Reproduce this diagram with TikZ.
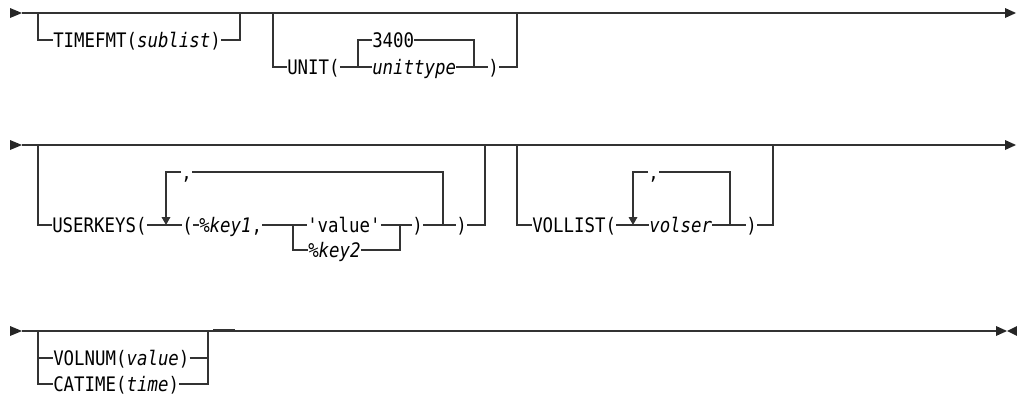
\documentclass[tikz,border=0pt]{standalone}
\usepackage{fontspec}
\setmonofont[FakeStretch=0.87]{DejaVu Sans Mono}
\usetikzlibrary{arrows.meta}
\newcommand{\synfont}{\ttfamily\fontsize{15pt}{17pt}\selectfont}
\tikzset{
  syn/.style={line width=0.95pt, draw=black!80},
  kw/.style={inner sep=0pt, anchor=west, text height=10.9pt, text depth=0pt, font=\synfont, text=black},
  looparrow/.style={-{Triangle[width=6.5pt,length=6pt]}}
}
\begin{document}
\begin{tikzpicture}[x=0.75pt, y=-0.75pt]
\useasboundingbox (0,0) rectangle (1017,396);

% row 1
\coordinate (a0) at (22,13); \coordinate (a1) at (38,13); \coordinate (a2) at (240,13);
\coordinate (a3) at (273,13); \coordinate (a4) at (517,13); \coordinate (a5) at (1005,13);
\coordinate (b1) at (358,67); \coordinate (b2) at (474,67);
\fill[black!85] (10,8) -- (a0) -- (10,18) -- cycle;
\fill[black!85] (a5) ++(0,-5) -- (1016,13) -- (1005,18) -- cycle;
\draw[syn] (a0) -- (a5);
\node[kw] (tfmt) at (53,40) {TIMEFMT(\textit{sublist})};
\node[kw] (unit) at (287,67) {UNIT(};
\node[kw] (dflt) at (372,40) {3400};
\node[kw] (utype) at (372,67) {\textit{unittype}};
\node[kw] (urp) at (488,67) {)};
\draw[syn] (a1) |- (tfmt.west) (tfmt.east) -| (a2);
\draw[syn] (a3) |- (unit.west) (unit.east) -- (utype.west) (utype.east) -- (urp.west) (urp.east) -| (a4);
\draw[syn] (b1) |- (dflt.west) (dflt.east) -| (b2);

% row 2
\coordinate (c0) at (22,145); \coordinate (c1) at (38,145); \coordinate (c2) at (485,145);
\coordinate (c3) at (517,145); \coordinate (c4) at (773,145); \coordinate (c5) at (1005,145);
\coordinate (l1) at (166,225); \coordinate (l2) at (443,225);
\coordinate (l3) at (633,225); \coordinate (l4) at (730,225);
\coordinate (b3) at (293,225); \coordinate (b4) at (400,225);
\fill[black!85] (10,140) -- (c0) -- (10,150) -- cycle;
\fill[black!85] (c5) ++(0,-5) -- (1016,145) -- (1005,150) -- cycle;
\draw[syn] (c0) -- (c5);
\node[kw] (ukey) at (52,225) {USERKEYS(};
\node[kw] (lp) at (182,225) {(};
\node[kw] (key1) at (199,225) {\textit{\%key1},};
\node[kw] (val) at (307,225) {'value'};
\node[kw] (key2) at (308,250) {\textit{\%key2}};
\node[kw] (rp1) at (412,225) {)};
\node[kw] (rp2) at (456,225) {)};
\node[kw] (cm1) at (181,172) {,};
\draw[syn] (c1) |- (ukey.west) (ukey.east) -- (lp.west) (lp.east) -- (key1.west)
  (key1.east) -- (val.west) (val.east) -- (rp1.west) (rp1.east) -- (rp2.west) (rp2.east) -| (c2);
\draw[syn] (b3) |- (key2.west) (key2.east) -| (b4);
\draw[syn, looparrow] (cm1.west) -| (l1);
\draw[syn] (cm1.east) -| (l2);
\node[kw] (vlst) at (532,225) {VOLLIST(};
\node[kw] (vser) at (649,225) {\textit{volser}};
\node[kw] (vrp) at (746,225) {)};
\node[kw] (cm2) at (648,172) {,};
\draw[syn] (c3) |- (vlst.west) (vlst.east) -- (vser.west) (vser.east) -- (vrp.west) (vrp.east) -| (c4);
\draw[syn, looparrow] (cm2.west) -| (l3);
\draw[syn] (cm2.east) -| (l4);

% row 3
\coordinate (d0) at (22,331); \coordinate (d1) at (38,331); \coordinate (d2) at (208,331);
\coordinate (d3) at (996,331);
\fill[black!85] (10,326) -- (d0) -- (10,336) -- cycle;
\fill[black!85] (d3) ++(0,-5) -- (1007,331) -- (996,336) -- cycle;
\fill[black!85] (1017,326) -- (1007,331) -- (1017,336) -- cycle;
\draw[syn] (d0) -- (d3);
\draw[line width=1.6pt, black!80] (213,330.5) -- (235,330.5);
\node[kw] (vnum) at (53,358) {VOLNUM(\textit{value})};
\node[kw] (ctim) at (53,384) {CATIME(\textit{time})};
\draw[syn] (d1) |- (vnum.west) (vnum.east) -| (d2);
\draw[syn] (d1) |- (ctim.west) (ctim.east) -| (d2);
\end{tikzpicture}
\end{document}
